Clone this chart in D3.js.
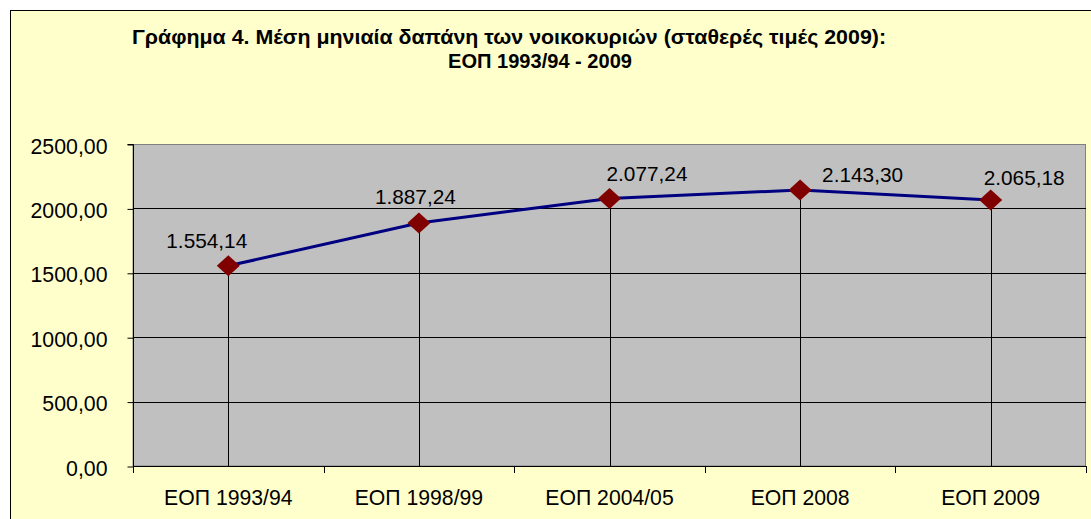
<!DOCTYPE html>
<html><head><meta charset="utf-8">
<script src="https://cdn.jsdelivr.net/npm/d3@7"></script>
<style>
html,body{margin:0;padding:0;background:#fff;}
svg{display:block;font-family:"Liberation Sans",Arial,sans-serif;}
</style></head>
<body><svg id="c" width="1091" height="519"></svg>
<script>
const categories = ["ΕΟΠ 1993/94","ΕΟΠ 1998/99","ΕΟΠ 2004/05","ΕΟΠ 2008","ΕΟΠ 2009"];
const values = [1554.14, 1887.24, 2077.24, 2143.30, 2065.18];
const valueLabels = ["1.554,14","1.887,24","2.077,24","2.143,30","2.065,18"];
const yTicks = [0, 500, 1000, 1500, 2000, 2500];
const yTickLabels = ["0,00","500,00","1000,00","1500,00","2000,00","2500,00"];
const titleLines = ["Γράφημα 4. Μέση μηνιαία δαπάνη των νοικοκυριών (σταθερές τιμές 2009):","ΕΟΠ 1993/94 - 2009"];

const svg = d3.select("#c");
// chart area frame
svg.append("rect").attr("x",10.5).attr("y",10.5).attr("width",1100).attr("height",530)
  .attr("fill","#FFFFCC").attr("stroke","#000").attr("stroke-width",1);

const L=133, R=1086, T=144, B=466;
const x = d3.scaleBand().domain(categories).range([L,R]).padding(0);
const y = d3.scaleLinear().domain([0,2500]).range([B,T]);
const cx = d => x(d) + x.bandwidth()/2;

// plot area
svg.append("rect").attr("x",L).attr("y",T+0.5).attr("width",R-L-0.5).attr("height",B-T-0.5)
  .attr("fill","#C0C0C0").attr("stroke","#808080").attr("stroke-width",1);

// gridlines
svg.append("g").selectAll("line").data(yTicks.filter(v=>v>0 && v<2500)).join("line")
  .attr("x1",L).attr("x2",R).attr("y1",d=>Math.round(y(d))+0.5).attr("y2",d=>Math.round(y(d))+0.5)
  .attr("stroke","#000").attr("stroke-width",1);

// drop lines
svg.append("g").selectAll("line").data(categories).join("line")
  .attr("x1",(d)=>Math.round(cx(d))+0.5).attr("x2",(d)=>Math.round(cx(d))+0.5)
  .attr("y1",(d,i)=>y(values[i])).attr("y2",B)
  .attr("stroke","#000").attr("stroke-width",1);

// y axis
const yAxis = d3.axisLeft(y).tickValues(yTicks).tickFormat((d,i)=>yTickLabels[i]).tickSize(6).tickPadding(20);
const gy = svg.append("g").attr("transform",`translate(${L+0.5},0.5)`).call(yAxis);
gy.select(".domain").attr("stroke","#000").attr("d",`M-6,${T}H0V${B}`);
gy.selectAll(".tick line").attr("stroke","#000");
gy.selectAll("text").attr("font-size","21.3px").attr("fill","#000")
  .attr("font-family","'Liberation Sans',Arial,sans-serif").attr("dy","0.4em");

// x axis (ticks between categories)
const boundaries = categories.map(c=>x(c)).concat([R]);
const gx = svg.append("g");
gx.append("line").attr("x1",L).attr("x2",R).attr("y1",B+0.5).attr("y2",B+0.5).attr("stroke","#000");
gx.selectAll("line.t").data(boundaries).join("line").attr("class","t")
  .attr("x1",d=>Math.round(d)+0.5).attr("x2",d=>Math.round(d)+0.5).attr("y1",B).attr("y2",B+7).attr("stroke","#000");
gx.selectAll("text").data(categories).join("text")
  .attr("x",d=>cx(d)).attr("y",505).attr("text-anchor","middle")
  .attr("font-size","21.2px").attr("fill","#000").text(d=>d);

// line
const line = d3.line().x((d,i)=>cx(categories[i])).y(d=>y(d));
svg.append("path").datum(values).attr("d",line).attr("fill","none")
  .attr("stroke","#000080").attr("stroke-width",3);

// markers
svg.append("g").selectAll("path").data(values).join("path")
  .attr("transform",(d,i)=>`translate(${cx(categories[i])},${y(d)})`)
  .attr("d","M0,-10.5L11.5,0L0,10.5L-11.5,0Z").attr("fill","#800000");

// data labels (individually placed, as in the original)
const labelDx = [-62,-44,-3,22,-7];
const labelDy = [-18,-19,-17.5,-8,-15];
svg.append("g").selectAll("text").data(values).join("text")
  .attr("x",(d,i)=>cx(categories[i])+labelDx[i]).attr("y",(d,i)=>y(d)+labelDy[i])
  .attr("font-size","20.8px").attr("fill","#000").text((d,i)=>valueLabels[i]);

// title
svg.append("text").attr("x",509).attr("y",44).attr("text-anchor","middle")
  .attr("font-size","20px").attr("font-weight","bold")
  .attr("textLength",754).attr("lengthAdjust","spacingAndGlyphs").text(titleLines[0]);
svg.append("text").attr("x",540).attr("y",68).attr("text-anchor","middle")
  .attr("font-size","20px").attr("font-weight","bold")
  .attr("textLength",184).attr("lengthAdjust","spacingAndGlyphs").text(titleLines[1]);
</script></body></html>
